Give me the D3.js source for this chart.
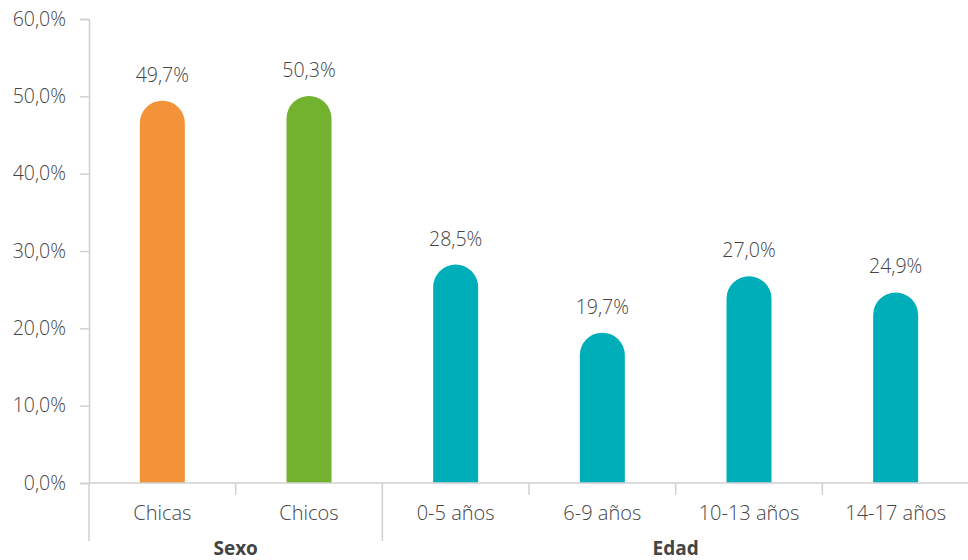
<!DOCTYPE html>
<html><head><meta charset="utf-8">
<script src="https://cdn.jsdelivr.net/npm/d3@7"></script>
<style>body{margin:0;background:#fff}svg{display:block}text{font-family:"Open Sans",Lato,sans-serif;fill:#444;font-weight:300}</style>
</head><body><svg id="c" width="968" height="560"></svg>
<script>
const categories = ["Chicas","Chicos","0-5 años","6-9 años","10-13 años","14-17 años"];
const values = [49.7,50.3,28.5,19.7,27.0,24.9];
const groups = ["Sexo","Sexo","Edad","Edad","Edad","Edad"];
const groupNames = ["Sexo","Edad"];
const colors = ["#F39339","#72B22F","#00AEBA","#00AEBA","#00AEBA","#00AEBA"];
const yTicks = [0,10,20,30,40,50,60];

const svg = d3.select("#c");
const x0 = 89, x1 = 969, yTop = 19, yBot = 483;
const x = d3.scaleBand().domain(categories).range([x0,x1]).paddingInner(0).paddingOuter(0);
const y = d3.scaleLinear().domain([0,60]).range([yBot,yTop]);
const fmt = v => v.toFixed(1).replace(".", ",") + "%";
const axisCol = "#d0d0d0";

// y axis
const ya = svg.append("g").attr("transform",`translate(${x0},0)`)
  .call(d3.axisLeft(y).tickValues(yTicks).tickFormat(fmt).tickSize(9).tickPadding(14));
ya.select(".domain").attr("stroke",axisCol).attr("stroke-width",1.5);
ya.selectAll(".tick line").attr("stroke",axisCol).attr("stroke-width",1.5);
ya.selectAll(".tick text").style("font-size","19.5px").style("font-family","'Open Sans',sans-serif").style("font-weight","300").attr("fill","#444");

// bars
const bw = 45;
svg.append("g").selectAll("path").data(categories).join("path")
  .attr("fill",(d,i)=>colors[i])
  .attr("d",(d,i)=>{
    const cx = x(d)+x.bandwidth()/2, l = cx-bw/2, r = cx+bw/2, rad = bw/2;
    const top = y(values[i]) + 2;
    return `M${l},${yBot} L${l},${top+rad} A${rad},${rad} 0 0 1 ${r},${top+rad} L${r},${yBot} Z`;
  });

// value labels
svg.append("g").selectAll("text").data(categories).join("text")
  .attr("x",d=>x(d)+x.bandwidth()/2)
  .attr("y",(d,i)=>y(values[i])-17)
  .attr("text-anchor","middle").style("font-size","19.5px")
  .text((d,i)=>fmt(values[i]));

// x axis
const xa = svg.append("g").attr("transform",`translate(0,${yBot})`);
xa.append("line").attr("x1",x0).attr("x2",x1).attr("stroke",axisCol).attr("stroke-width",1.5);
categories.forEach((d,i)=>{
  const bx = x(d);
  const isGroupStart = i===0 || groups[i]!==groups[i-1];
  xa.append("line").attr("x1",bx).attr("x2",bx).attr("y1",0).attr("y2",isGroupStart?58:12)
    .attr("stroke",axisCol).attr("stroke-width",1.5);
  xa.append("text").attr("x",bx+x.bandwidth()/2).attr("y",37).attr("text-anchor","middle")
    .style("font-size","20px").text(d);
});
groupNames.forEach(g=>{
  const idx = categories.map((c,i)=>i).filter(i=>groups[i]===g);
  const a = x(categories[idx[0]]), b = x(categories[idx[idx.length-1]])+x.bandwidth();
  xa.append("text").attr("x",(a+b)/2).attr("y",72).attr("text-anchor","middle")
    .style("font-size","19px").style("font-weight","bold").attr("fill","#333").text(g);
});
</script></body></html>
